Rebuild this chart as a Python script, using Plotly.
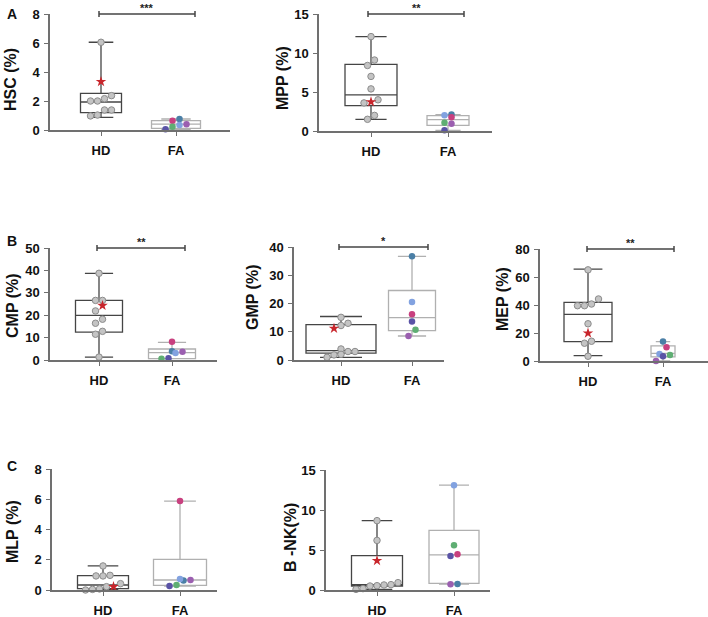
import plotly.graph_objects as go

W, H = 708, 617
FONT = "Arial, Liberation Sans, sans-serif"

groups = ["HD", "FA"]

# FA patients, always in this order:
# teal, light blue, pink, purple, green, indigo
fa_colors = ["#4a7fa6", "#82a2e0", "#c8407f", "#9b5fb0", "#5fae73", "#5a53a6"]

# ---- data ----
# box stats: [min, q1, median, q3, max]
hsc_hd = [6.05, 2.37, 2.0, 2.0, 2.16, 1.38, 1.38, 0.97, 1.03]
hsc_star = 3.33
hsc_fa = [0.76, 0.35, 0.64, 0.39, 0.23, 0.05]
hsc_box_hd = [0.87, 1.2, 1.93, 2.53, 6.05]
hsc_box_fa = [0.05, 0.11, 0.41, 0.64, 0.76]

mpp_hd = [12.1, 9.1, 8.4, 7.0, 5.4, 4.0, 3.6, 2.0, 1.5]
mpp_star = 3.73
mpp_fa = [2.1, 2.01, 1.76, 0.94, 1.07, 0.09]
mpp_box_hd = [1.5, 3.26, 4.63, 8.53, 12.1]
mpp_box_fa = [0.09, 0.73, 1.46, 1.97, 2.1]

cmp_hd = [38.7, 26.6, 26.6, 21.9, 18.2, 16.4, 12.8, 11.5, 1.3]
cmp_star = 24.3
cmp_fa = [3.9, 3.1, 8.1, 3.7, 0.6, 0.75]
cmp_box_hd = [1.3, 12.4, 19.9, 26.6, 38.7]
cmp_box_fa = [0.6, 0.6, 3.3, 4.9, 7.9]

gmp_hd = [15.1, 13.0, 12.2, 3.9, 3.0, 3.0, 2.0, 1.8, 0.95]
gmp_star = 11.2
gmp_fa = [36.7, 20.5, 16.2, 8.5, 10.7, 13.6]
gmp_box_hd = [0.95, 2.4, 3.3, 12.5, 15.4]
gmp_box_fa = [8.5, 10.4, 15.0, 24.6, 36.7]

mep_hd = [65.1, 44.3, 40.7, 39.5, 39.5, 26.6, 14.1, 12.7, 3.4]
mep_star = 19.9
mep_fa = [13.9, 5.0, 9.8, 0.0, 4.3, 3.4]
mep_box_hd = [3.8, 13.9, 33.3, 41.9, 65.6]
mep_box_fa = [0.0, 2.9, 5.5, 10.8, 13.9]

mlp_hd = [1.59, 0.93, 0.93, 0.97, 0.42, 0.22, 0.07, 0.0, 0.04]
mlp_star = 0.22
mlp_fa = [0.62, 0.73, 5.88, 0.66, 0.33, 0.26]
mlp_box_hd = [0.0, 0.09, 0.33, 0.95, 1.59]
mlp_box_fa = [0.26, 0.31, 0.66, 2.03, 5.88]

bnk_hd = [8.67, 6.2, 0.92, 0.63, 0.5, 0.54, 0.67, 0.08, 0.17]
bnk_star = 3.67
bnk_fa = [0.75, 13.1, 4.46, 0.71, 5.6, 4.25]
bnk_box_hd = [0.08, 0.5, 0.67, 4.29, 8.67]
bnk_box_fa = [0.75, 0.83, 4.38, 7.46, 13.1]

# ---- panel placement (pixels) ----
panels = [
    dict(title="HSC (%)", hd=hsc_hd, star=hsc_star, fa=hsc_fa, bhd=hsc_box_hd, bfa=hsc_box_fa,
         ymax=8, dtick=2, ax=50, xend=230, ytop=14, y0=130, phd=101, pfa=176,
         whd=41, wfa=49, sig="***", br=(99, 195), tx=(10, 80)),
    dict(title="MPP (%)", hd=mpp_hd, star=mpp_star, fa=mpp_fa, bhd=mpp_box_hd, bfa=mpp_box_fa,
         ymax=15, dtick=5, ax=319, xend=492, ytop=14, y0=131, phd=371, pfa=448,
         whd=52, wfa=42, sig="**", br=(368, 464), tx=(283, 78)),
    dict(title="CMP (%)", hd=cmp_hd, star=cmp_star, fa=cmp_fa, bhd=cmp_box_hd, bfa=cmp_box_fa,
         ymax=50, dtick=10, ax=50, xend=217, ytop=248, y0=360, phd=99, pfa=172,
         whd=47, wfa=47, sig="**", br=(97, 185), tx=(12, 306)),
    dict(title="GMP (%)", hd=gmp_hd, star=gmp_star, fa=gmp_fa, bhd=gmp_box_hd, bfa=gmp_box_fa,
         ymax=40, dtick=10, ax=294, xend=444, ytop=247, y0=360, phd=341, pfa=412,
         whd=70, wfa=47, sig="*", br=(339, 428), tx=(253, 298)),
    dict(title="MEP (%)", hd=mep_hd, star=mep_star, fa=mep_fa, bhd=mep_box_hd, bfa=mep_box_fa,
         ymax=80, dtick=20, ax=540, xend=708, ytop=249, y0=361, phd=588, pfa=663,
         whd=48, wfa=24, sig="**", br=(587, 674), tx=(503, 299)),
    dict(title="MLP (%)", hd=mlp_hd, star=mlp_star, fa=mlp_fa, bhd=mlp_box_hd, bfa=mlp_box_fa,
         ymax=8, dtick=2, ax=52, xend=217, ytop=469, y0=590, phd=103, pfa=180,
         whd=51, wfa=53, sig=None, br=None, tx=(12, 532)),
    dict(title="B -NK(%)", hd=bnk_hd, star=bnk_star, fa=bnk_fa, bhd=bnk_box_hd, bfa=bnk_box_fa,
         ymax=15, dtick=5, ax=326, xend=490, ytop=470, y0=590, phd=377, pfa=454,
         whd=51, wfa=50, sig=None, br=None, tx=(290, 538)),
]


def px(p):
    return p / W


def py(p):
    return 1 - p / H


def swarm(vals, ppu, d=7.0):
    # simple beeswarm: points close in y share a row, spread around the centre
    order = sorted(range(len(vals)), key=lambda i: vals[i])
    offs = [0.0] * len(vals)
    rows = []
    for i in order:
        if rows and (vals[i] - vals[rows[-1][0]]) * ppu < d:
            rows[-1].append(i)
        else:
            rows.append([i])
    for r in rows:
        for k, i in enumerate(r):
            offs[i] = (k - (len(r) - 1) / 2) * d
    return offs


fig = go.Figure()
shapes, annots = [], []
axis_col = "#707070"

for n, p in enumerate(panels, start=1):
    xa = "x" if n == 1 else f"x{n}"
    ya = "y" if n == 1 else f"y{n}"
    unit = p["pfa"] - p["phd"]
    ppu = (p["y0"] - p["ytop"]) / p["ymax"]

    # boxes
    for pos, b, w, col in [(1, p["bhd"], p["whd"], "#454545"), (2, p["bfa"], p["wfa"], "#b0b0b0")]:
        fig.add_trace(go.Box(
            x=[pos], lowerfence=[b[0]], q1=[b[1]], median=[b[2]], q3=[b[3]], upperfence=[b[4]],
            width=w / unit, whiskerwidth=0.6, fillcolor="rgba(0,0,0,0)",
            line=dict(color=col, width=1.3), boxpoints=False,
            xaxis=xa, yaxis=ya, showlegend=False, hoverinfo="skip"))

    # HD points (grey) + red star
    hd_vals = p["hd"] + [p["star"]]
    offs = swarm(hd_vals, ppu)
    fig.add_trace(go.Scatter(
        x=[1 + o / unit for o in offs[:-1]], y=p["hd"], mode="markers", cliponaxis=False,
        marker=dict(size=6.5, color="#c4c4c4", line=dict(color="#8c8c8c", width=1)),
        xaxis=xa, yaxis=ya, showlegend=False))
    fig.add_trace(go.Scatter(
        x=[1 + offs[-1] / unit], y=[p["star"]], mode="markers", cliponaxis=False,
        marker=dict(size=8, symbol="star", color="#c8262c", line=dict(width=0)),
        xaxis=xa, yaxis=ya, showlegend=False))

    # FA points (one colour per patient)
    offs = swarm(p["fa"], ppu)
    fig.add_trace(go.Scatter(
        x=[2 + o / unit for o in offs], y=p["fa"], mode="markers", cliponaxis=False,
        marker=dict(size=6.5, color=fa_colors, line=dict(width=0)),
        xaxis=xa, yaxis=ya, showlegend=False))

    fig.update_layout({
        ("xaxis" if n == 1 else f"xaxis{n}"): dict(
            domain=[px(p["ax"]), px(p["xend"])], anchor=ya, automargin=False,
            range=[1 - (p["phd"] - p["ax"]) / unit, 2 + (p["xend"] - p["pfa"]) / unit],
            tickvals=[1, 2], ticktext=groups, ticks="outside", ticklen=4, tickcolor=axis_col,
            showline=True, linecolor=axis_col, linewidth=1.5, showgrid=False, zeroline=False,
            ticklabelstandoff=4,
            tickfont=dict(family=FONT, size=13, color="#111", weight="bold")),
        ("yaxis" if n == 1 else f"yaxis{n}"): dict(
            domain=[py(p["y0"]), py(p["ytop"])], anchor=xa, automargin=False,
            range=[0, p["ymax"]], dtick=p["dtick"], ticks="outside", ticklen=4,
            tickcolor=axis_col, showline=True, linecolor=axis_col, linewidth=1.5,
            showgrid=False, zeroline=False, ticklabelstandoff=2,
            tickfont=dict(family=FONT, size=13, color="#111", weight="bold")),
    })

    annots.append(dict(
        text=p["title"], x=px(p["tx"][0]), y=py(p["tx"][1]), xref="paper", yref="paper",
        textangle=-90, showarrow=False, xanchor="center", yanchor="middle",
        font=dict(family=FONT, size=16, color="#111", weight="bold")))

    if p["br"]:
        x1, x2 = p["br"]
        yb = p["ytop"]
        line = dict(color="#454545", width=1.5)
        shapes.append(dict(type="line", xref="paper", yref="paper",
                           x0=px(x1), x1=px(x2), y0=py(yb), y1=py(yb), line=line))
        for xe in (x1, x2):
            shapes.append(dict(type="line", xref="paper", yref="paper",
                               x0=px(xe), x1=px(xe), y0=py(yb - 3), y1=py(yb + 3), line=line))
        annots.append(dict(
            text=p["sig"], x=px((x1 + x2) / 2), y=py(yb - 6), xref="paper", yref="paper",
            showarrow=False, xanchor="center", yanchor="middle", borderpad=0,
            font=dict(family=FONT, size=11, color="#222", weight="bold")))

for letter, (lx, ly) in {"A": (12, 14), "B": (12, 241), "C": (12, 466)}.items():
    annots.append(dict(text=letter, x=px(lx), y=py(ly), xref="paper", yref="paper",
                       showarrow=False, xanchor="center", yanchor="middle",
                       font=dict(family=FONT, size=14, color="#111", weight="bold")))

fig.update_layout(
    width=W, height=H, margin=dict(l=0, r=0, t=0, b=0),
    paper_bgcolor="white", plot_bgcolor="white",
    shapes=shapes, annotations=annots,
)

# drop the page's default body margin so the figure sits at the window's corner
fig.write_html("out.html", config={"displayModeBar": False},
               post_script="document.body.style.margin='0';")
